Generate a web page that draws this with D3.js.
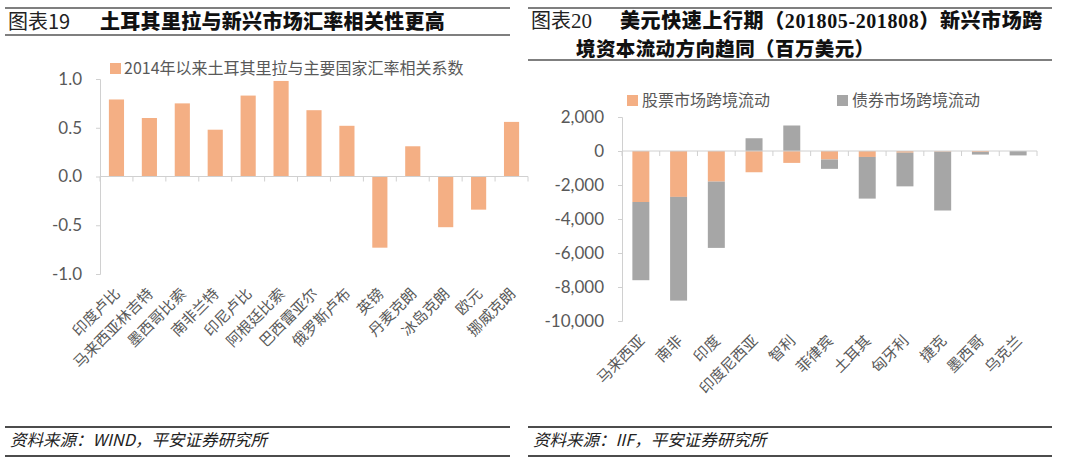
<!DOCTYPE html>
<html><head><meta charset="utf-8">
<script src="https://cdn.jsdelivr.net/npm/d3@7/dist/d3.min.js"></script>
<style>
html,body{margin:0;padding:0;background:#fff;}
svg{display:block;}
</style></head>
<body>
<svg id="c" width="1071" height="462"></svg>
<script>
// ---- Left chart data ----
const leftCategories = ["印度卢比","马来西亚林吉特","墨西哥比索","南非兰特","印尼卢比","阿根廷比索","巴西雷亚尔","俄罗斯卢布","英镑","丹麦克朗","冰岛克朗","欧元","挪威克朗"];
const leftValues = [0.79,0.60,0.75,0.48,0.83,0.98,0.68,0.52,-0.73,0.31,-0.52,-0.34,0.56];
const leftTicks = [-1.0,-0.5,0.0,0.5,1.0];
const leftLegend = "2014年以来土耳其里拉与主要国家汇率相关系数";

// ---- Right chart data ----
const rightCategories = ["马来西亚","南非","印度","印度尼西亚","智利","菲律宾","土耳其","匈牙利","捷克","墨西哥","乌克兰"];
const equityFlows = [-3000,-2700,-1800,-1250,-700,-500,-350,-100,-40,-60,0];
const bondFlows = [-4600,-6100,-3900,750,1500,-550,-2450,-1980,-3460,-150,-260];
const rightTicks = [-10000,-8000,-6000,-4000,-2000,0,2000];
const rightSeriesNames = ["股票市场跨境流动","债券市场跨境流动"];

const ORANGE = "#F4AF84", GRAY = "#A6A6A6", TXT = "#595959", AX = "#D0D0D0";
const CJK = "'Noto Sans CJK SC', 'Noto Sans', sans-serif";
const NUM = "Lato, 'Open Sans', sans-serif";

const svg = d3.select("#c");
const loc = d3.formatLocale({decimal:".", thousands:",", grouping:[3], currency:["",""], minus:"-"});
const f1 = loc.format(".1f"), fc = loc.format(",");

// ---- Headers ----
function header(x0, x1, yBottom){
  svg.append("line").attr("x1",x0).attr("x2",x1).attr("y1",8).attr("y2",8).attr("stroke","#7f7f7f").attr("stroke-width",2);
  svg.append("line").attr("x1",x0).attr("x2",x1).attr("y1",yBottom).attr("y2",yBottom).attr("stroke","#7f7f7f").attr("stroke-width",2);
}
header(5,510,35);
header(528,1052,60);

svg.append("text").attr("x",8).attr("y",29).attr("font-family",CJK).attr("font-size",20).attr("fill","#222").text("图表19");
svg.append("text").attr("x",100).attr("y",29).attr("font-family",CJK).attr("font-size",20).attr("font-weight",900).attr("fill","#111").attr("letter-spacing",0.3).text("土耳其里拉与新兴市场汇率相关性更高");

const t2 = svg.append("text").attr("x",531).attr("y",28).attr("font-size",20).attr("fill","#222");
t2.append("tspan").attr("font-family",CJK).text("图表");
t2.append("tspan").attr("font-family","'Liberation Serif', serif").attr("font-size",21).text("20");
const t3 = svg.append("text").attr("y",27.5).attr("font-size",20).attr("font-weight",900).attr("fill","#111");
t3.append("tspan").attr("x",620).attr("font-family",CJK).attr("letter-spacing",0.6).text("美元快速上行期（");
t3.append("tspan").attr("font-family","'Liberation Serif', serif").attr("font-weight",700).attr("letter-spacing",0.6).text("201805-201808");
t3.append("tspan").attr("font-family",CJK).attr("letter-spacing",0.6).text("）新兴市场跨");
svg.append("text").attr("x",576).attr("y",56).attr("font-family",CJK).attr("font-size",19.5).attr("font-weight",900).attr("fill","#111").attr("letter-spacing",0.4).text("境资本流动方向趋同（百万美元）");

// ---- Footers ----
function footer(x0,x1,label){
  svg.append("line").attr("x1",x0).attr("x2",x1).attr("y1",427).attr("y2",427).attr("stroke","#111").attr("stroke-width",1.5);
  svg.append("line").attr("x1",x0).attr("x2",x1).attr("y1",456).attr("y2",456).attr("stroke","#111").attr("stroke-width",1.5);
  svg.append("text").attr("x",x0+5).attr("y",446).attr("font-family",CJK).attr("font-size",16.5).attr("font-style","italic").attr("fill","#222").text(label);
}
footer(5,510,"资料来源：WIND，平安证券研究所");
footer(528,1052,"资料来源：IIF，平安证券研究所");

// ---- Left chart ----
{
  const x = d3.scaleBand().domain(leftCategories).range([100,528]).paddingInner(0.54).paddingOuter(0.27);
  const y = d3.scaleLinear().domain([-1,1]).range([274,79]);
  const step = x.step();
  const ya = svg.append("g").attr("transform","translate(100,0)")
    .call(d3.axisLeft(y).tickValues(leftTicks).tickFormat(f1).tickSize(4).tickPadding(14));
  ya.select(".domain").attr("stroke",AX);
  ya.selectAll(".tick line").attr("stroke",AX);
  ya.selectAll("text").attr("font-family",NUM).attr("font-size",17).attr("fill",TXT);
  svg.append("g").selectAll("rect").data(leftValues).join("rect")
    .attr("x",(d,i)=>x(leftCategories[i]))
    .attr("width",x.bandwidth())
    .attr("y",d=>y(Math.max(0,d)))
    .attr("height",d=>Math.abs(y(d)-y(0)))
    .attr("fill",ORANGE);
  const y0 = y(0);
  svg.append("line").attr("x1",100).attr("x2",528).attr("y1",y0).attr("y2",y0).attr("stroke",AX);
  svg.append("g").selectAll("line").data(d3.range(leftCategories.length+1)).join("line")
    .attr("x1",i=>100+i*step).attr("x2",i=>100+i*step).attr("y1",y0).attr("y2",y0+5).attr("stroke",AX);
  svg.append("g").selectAll("text").data(leftCategories).join("text")
    .attr("transform",d=>`translate(${x(d)+x.bandwidth()/2+1},${291}) rotate(-45)`)
    .attr("text-anchor","end").attr("dy","0.35em")
    .attr("font-family",CJK).attr("font-size",15).attr("fill",TXT).text(d=>d);
  svg.append("rect").attr("x",110).attr("y",63).attr("width",11).attr("height",11).attr("fill",ORANGE);
  svg.append("text").attr("x",124).attr("y",74).attr("font-family",CJK).attr("font-size",16).attr("fill",TXT).text(leftLegend);
}

// ---- Right chart ----
{
  const x = d3.scaleBand().domain(rightCategories).range([622,1037]).paddingInner(0.55).paddingOuter(0.275);
  const y = d3.scaleLinear().domain([-10000,2000]).range([321,117]);
  const step = x.step();
  const ya = svg.append("g").attr("transform","translate(622,0)")
    .call(d3.axisLeft(y).tickValues(rightTicks).tickFormat(fc).tickSize(4).tickPadding(14));
  ya.select(".domain").attr("stroke",AX);
  ya.selectAll(".tick line").attr("stroke",AX);
  ya.selectAll("text").attr("font-family",NUM).attr("font-size",17).attr("fill",TXT);

  const rows = rightCategories.map((c,i)=>({cat:c, eq:equityFlows[i], bd:bondFlows[i]}));
  const stack = d3.stack().keys(["eq","bd"]).offset(d3.stackOffsetDiverging);
  const series = stack(rows);
  const colors = [ORANGE, GRAY];
  svg.append("g").selectAll("g").data(series).join("g").attr("fill",(d,i)=>colors[i])
    .selectAll("rect").data(d=>d).join("rect")
    .attr("x",d=>x(d.data.cat)).attr("width",x.bandwidth())
    .attr("y",d=>y(Math.max(d[0],d[1])))
    .attr("height",d=>Math.abs(y(d[0])-y(d[1])));

  const y0 = y(0);
  svg.append("line").attr("x1",622).attr("x2",1037).attr("y1",y0).attr("y2",y0).attr("stroke",AX);
  svg.append("g").selectAll("line").data(d3.range(rightCategories.length+1)).join("line")
    .attr("x1",i=>622+i*step).attr("x2",i=>622+i*step).attr("y1",y0).attr("y2",y0+5).attr("stroke",AX);

  svg.append("g").selectAll("text").data(rightCategories).join("text")
    .attr("transform",d=>`translate(${x(d)+x.bandwidth()/2+1},${338}) rotate(-45)`)
    .attr("text-anchor","end").attr("dy","0.35em")
    .attr("font-family",CJK).attr("font-size",15).attr("fill",TXT).text(d=>d);

  const lx = [627, 837];
  rightSeriesNames.forEach((n,i)=>{
    svg.append("rect").attr("x",lx[i]).attr("y",95).attr("width",11).attr("height",11).attr("fill",colors[i]);
    svg.append("text").attr("x",lx[i]+15).attr("y",106).attr("font-family",CJK).attr("font-size",16).attr("fill",TXT).text(n);
  });
}
</script>
</body></html>
